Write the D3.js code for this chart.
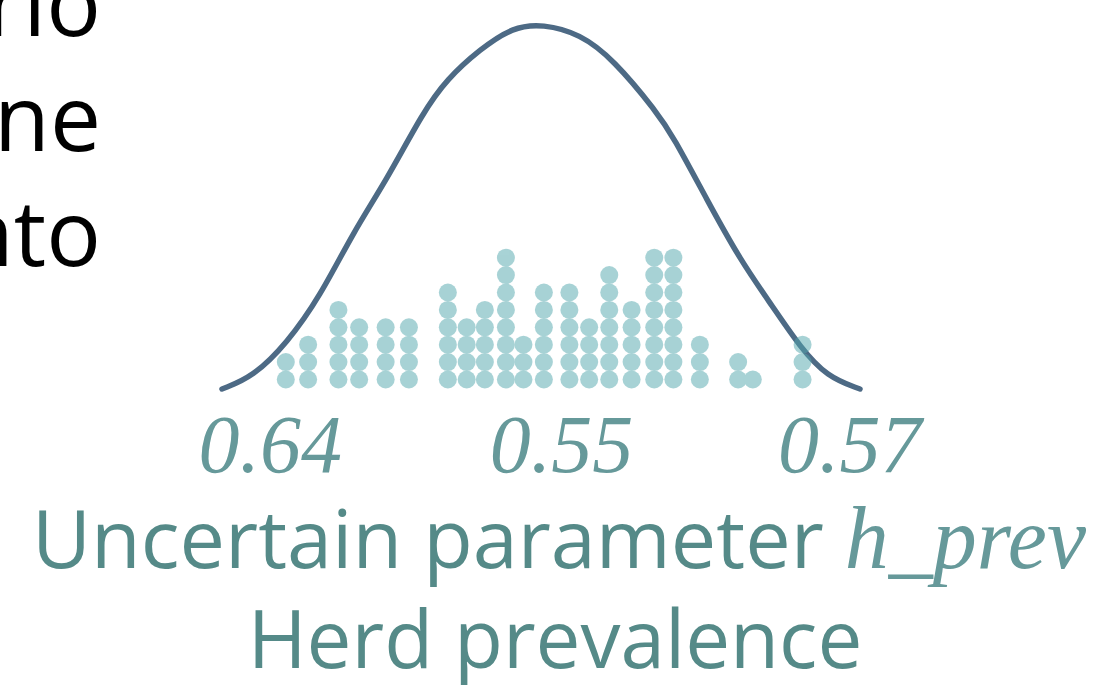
<!DOCTYPE html>
<html>
<head>
<meta charset="utf-8">
<script src="https://cdn.jsdelivr.net/npm/d3@7"></script>
<style>
  html, body { margin: 0; padding: 0; background: #fff; }
  svg { display: block; }
</style>
</head>
<body>
<svg></svg>
<script>
// slide text cut off at the left edge
const sideLines = ['rio', 'ne', 'nto'];

// density curve (x in half-widths, height relative to peak)
const curveX = [-1.00, -0.903, -0.796, -0.693, -0.589, -0.483, -0.370, -0.295, -0.191, -0.088, 0.006, 0.122, 0.226, 0.364, 0.414, 0.520, 0.624, 0.727, 0.812, 0.897, 1.00];
const curveD = [0, 0.033, 0.126, 0.253, 0.429, 0.574, 0.758, 0.849, 0.931, 0.992, 1.0, 0.973, 0.904, 0.758, 0.692, 0.519, 0.354, 0.225, 0.115, 0.033, 0];

// dot plot columns: position and number of stacked dots
const dotX = [-0.80, -0.73, -0.635, -0.57, -0.487, -0.414, -0.292, -0.233, -0.176, -0.11, -0.055, 0.009, 0.089, 0.151, 0.214, 0.284, 0.355, 0.415, 0.498, 0.618, 0.664, 0.82];
const dotCount = [2, 3, 5, 4, 4, 4, 6, 4, 5, 8, 3, 6, 6, 4, 7, 5, 8, 8, 3, 2, 1, 3];

const tickPos = [-0.85, 0.063, 0.966];
const tickLabels = ['0.64', '0.55', '0.57'];

const titleText = 'Uncertain parameter ';
const titleMath = 'h_prev';
const subtitle = 'Herd prevalence';

const [width, height] = [1097, 685];

const x = d3.scaleLinear().domain([-1, 1]).range([222, 860]);
const y = d3.scaleLinear().domain([0, 1]).range([389, 24]);
const stackY = d3.scaleLinear().domain([0, 8]).range([379.5, 240.3]);

const svg = d3.select('svg')
  .attr('width', width)
  .attr('height', height)
  .attr('viewBox', [0, 0, width, height]);

svg.append('rect').attr('width', width).attr('height', height).attr('fill', '#fff');

svg.append('g')
  .selectAll('text')
  .data(sideLines)
  .join('text')
  .attr('x', 101)
  .attr('y', (d, i) => 36 + i * 115)
  .attr('text-anchor', 'end')
  .attr('font-family', 'Open Sans')
  .attr('font-size', 91)
  .attr('fill', '#000')
  .text(d => d);

const curveData = curveX.map((v, i) => ({x: v, d: curveD[i]}));

const line = d3.line()
  .curve(d3.curveBasis)
  .x(d => x(d.x))
  .y(d => y(d.d));

svg.append('path')
  .datum(curveData)
  .attr('fill', 'none')
  .attr('stroke', '#4d6a85')
  .attr('stroke-width', 5.5)
  .attr('stroke-linecap', 'round')
  .attr('d', line);

const dots = [];
dotX.forEach((v, i) => {
  for (let k = 0; k < dotCount[i]; k++) dots.push({x: v, k});
});

svg.append('g')
  .attr('opacity', 0.5)
  .selectAll('circle')
  .data(dots)
  .join('circle')
  .attr('cx', d => x(d.x))
  .attr('cy', d => stackY(d.k))
  .attr('r', 9)
  .attr('fill', '#51a7ad');

const xAxis = d3.axisBottom(x)
  .tickValues(tickPos)
  .tickFormat((d, i) => tickLabels[i])
  .tickSize(0);

{
  const s = svg.append('g').call(xAxis);
  s.select('.domain').remove();
  s.selectAll('.tick text')
    .attr('y', 472)
    .attr('dy', 0)
    .attr('font-family', 'Liberation Serif')
    .attr('font-style', 'italic')
    .attr('font-size', 82)
    .attr('fill', '#66999a');
}

const title = svg.append('text')
  .attr('x', 559)
  .attr('y', 568)
  .attr('text-anchor', 'middle')
  .attr('font-family', 'Open Sans')
  .attr('font-size', 81)
  .attr('fill', '#558a88');
title.append('tspan').text(titleText);
title.append('tspan')
  .attr('font-family', 'Liberation Serif')
  .attr('font-style', 'italic')
  .attr('font-size', 88)
  .attr('fill', '#66999a')
  .text(titleMath);

svg.append('text')
  .attr('x', 555)
  .attr('y', 668)
  .attr('text-anchor', 'middle')
  .attr('font-family', 'Open Sans')
  .attr('font-size', 80)
  .attr('fill', '#558a88')
  .text(subtitle);
</script>
</body>
</html>
